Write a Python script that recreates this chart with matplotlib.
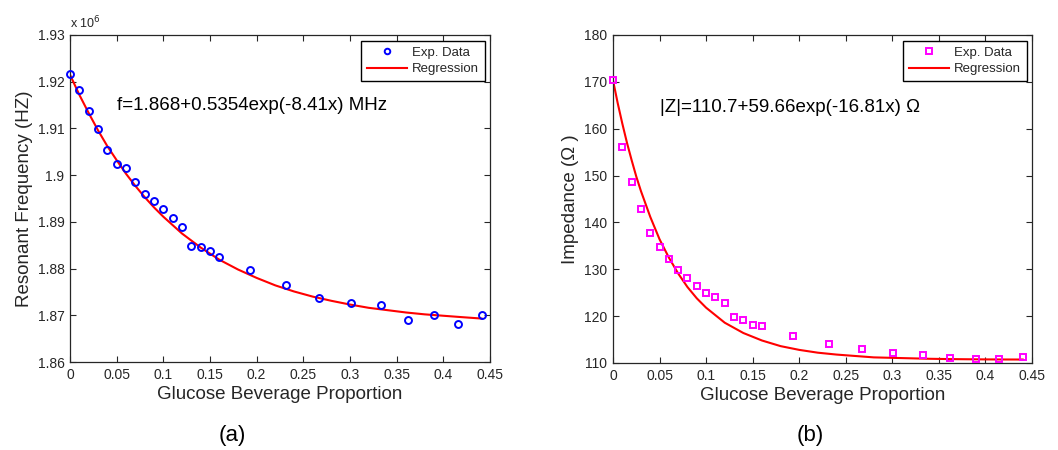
import matplotlib
matplotlib.use("Agg")
import matplotlib.pyplot as plt
from matplotlib.ticker import FixedLocator, FuncFormatter

plt.rcParams['font.family'] = ['Liberation Sans', 'DejaVu Sans']

# ---------------- data (a) ----------------
x_a = [0.0, 0.01, 0.02, 0.03, 0.04, 0.05, 0.06, 0.07, 0.08, 0.09, 0.10, 0.11, 0.12,
       0.13, 0.14, 0.15, 0.16, 0.193, 0.231, 0.267, 0.301, 0.333, 0.362, 0.390, 0.416, 0.441]
freq_a = [1.9216, 1.9182, 1.9138, 1.9098, 1.9053, 1.9024, 1.9015, 1.8986, 1.8960, 1.8944,
          1.8928, 1.8908, 1.8890, 1.8848, 1.8846, 1.8838, 1.8824, 1.8797, 1.8765, 1.8736,
          1.8727, 1.8721, 1.8690, 1.8700, 1.8682, 1.8700]
reg_x_a = [0.0, 0.01, 0.02, 0.03, 0.04, 0.05, 0.06, 0.07, 0.08, 0.09, 0.10, 0.12, 0.14,
           0.16, 0.18, 0.20, 0.22, 0.24, 0.26, 0.28, 0.30, 0.32, 0.34, 0.36, 0.38, 0.40,
           0.42, 0.441]
reg_y_a = [1.9215, 1.9172, 1.9133, 1.9096, 1.9062, 1.9032, 1.9003, 1.8977, 1.8953, 1.8931,
           1.8911, 1.8875, 1.8845, 1.8819, 1.8798, 1.8780, 1.8764, 1.8751, 1.8740, 1.8731,
           1.8723, 1.8716, 1.8711, 1.8706, 1.8702, 1.8699, 1.8696, 1.8693]

# ---------------- data (b) ----------------
x_b = [0.0, 0.01, 0.02, 0.03, 0.04, 0.05, 0.06, 0.07, 0.08, 0.09, 0.10, 0.11, 0.12,
       0.13, 0.14, 0.15, 0.16, 0.193, 0.232, 0.267, 0.301, 0.333, 0.362, 0.390, 0.415, 0.440]
imp_b = [170.5, 156.2, 148.6, 142.9, 137.7, 134.8, 132.3, 129.9, 128.1, 126.4, 124.9,
         124.0, 122.9, 119.8, 119.2, 118.1, 117.8, 115.8, 114.1, 113.0, 112.2, 111.8,
         111.0, 110.8, 110.9, 111.3]
reg_x_b = [0.0, 0.005, 0.01, 0.015, 0.02, 0.025, 0.03, 0.04, 0.05, 0.06, 0.07, 0.08,
           0.09, 0.10, 0.12, 0.14, 0.16, 0.18, 0.20, 0.22, 0.24, 0.26, 0.28, 0.30, 0.32,
           0.34, 0.36, 0.38, 0.40, 0.42, 0.440]
reg_y_b = [170.36, 165.5, 161.1, 157.0, 153.3, 149.8, 146.7, 141.2, 136.4, 132.5, 129.1,
           126.2, 123.8, 121.8, 118.6, 116.4, 114.8, 113.6, 112.8, 112.2, 111.8, 111.5,
           111.2, 111.1, 111.0, 110.9, 110.84, 110.8, 110.77, 110.75, 110.74]

x_ticks = [0, 0.05, 0.1, 0.15, 0.2, 0.25, 0.3, 0.35, 0.4, 0.45]
y_ticks_a = [1.86, 1.87, 1.88, 1.89, 1.9, 1.91, 1.92, 1.93]
y_ticks_b = [110, 120, 130, 140, 150, 160, 170, 180]

eq_a = "f=1.868+0.5354exp(-8.41x) MHz"
eq_b = "|Z|=110.7+59.66exp(-16.81x) Ω"

GREY = '#262626'

fig = plt.figure(figsize=(10.58, 4.5), dpi=100)
ax1 = fig.add_axes([70/1058, 1-362/450, 420/1058, 327/450])
ax2 = fig.add_axes([613/1058, 1-363/450, 419/1058, 328/450])


def fmt(v, pos):
    s = ('%.2f' % v).rstrip('0').rstrip('.')
    return s


def style(ax):
    ax.tick_params(direction='in', top=True, right=True, length=4, width=0.8,
                   colors=GREY, labelsize=10, pad=4)
    for sp in ax.spines.values():
        sp.set_color(GREY)
        sp.set_linewidth(0.9)
    ax.xaxis.set_major_locator(FixedLocator(x_ticks))
    ax.xaxis.set_major_formatter(FuncFormatter(fmt))
    ax.set_xlim(0, 0.45)
    ax.set_xlabel('Glucose Beverage Proportion', fontsize=13.5, color=GREY, labelpad=3)


def legend(ax):
    leg = ax.legend(loc='upper right', bbox_to_anchor=(0.9875, 0.982), fontsize=9.5,
                    frameon=True, fancybox=False, edgecolor='black', framealpha=1,
                    handlelength=3.0, borderpad=0.45, labelspacing=0.3, handletextpad=0.4,
                    borderaxespad=0, markerscale=0.8)
    leg.get_frame().set_linewidth(1.0)
    for t in leg.get_texts():
        t.set_color(GREY)
    return leg


# ---- (a) ----
style(ax1)
ax1.plot(x_a, freq_a, linestyle='none', marker='o', markersize=5, markerfacecolor='none',
         markeredgecolor='#0000ff', markeredgewidth=1.4, label='Exp. Data', zorder=3,
         clip_on=False)
ax1.plot(reg_x_a, reg_y_a, color='#ff0000', linewidth=1.5, label='Regression', zorder=2)
ax1.set_ylim(1.86, 1.93)
ax1.yaxis.set_major_locator(FixedLocator(y_ticks_a))
ax1.yaxis.set_major_formatter(FuncFormatter(fmt))
ax1.set_ylabel('Resonant Frequency (HZ)', fontsize=13.5, color=GREY, labelpad=3.5)
ax1.text(0.0, 1.012, r'x 10$^{6}$', transform=ax1.transAxes, fontsize=9, color=GREY,
         ha='left', va='bottom')
ax1.text(0.112, 0.783, eq_a, transform=ax1.transAxes, fontsize=13.5, color='black',
         ha='left', va='center')
legend(ax1)

# ---- (b) ----
style(ax2)
ax2.plot(x_b, imp_b, linestyle='none', marker='s', markersize=5, markerfacecolor='none',
         markeredgecolor='#ff00ff', markeredgewidth=1.4, label='Exp. Data', zorder=3,
         clip_on=False)
ax2.plot(reg_x_b, reg_y_b, color='#ff0000', linewidth=1.5, label='Regression', zorder=2)
ax2.set_ylim(110, 180)
ax2.yaxis.set_major_locator(FixedLocator(y_ticks_b))
ax2.yaxis.set_major_formatter(FuncFormatter(fmt))
ax2.set_ylabel('Impedance (Ω )', fontsize=13.5, color=GREY, labelpad=4)
ax2.text(0.112, 0.78, eq_b, transform=ax2.transAxes, fontsize=13.5, color='black',
         ha='left', va='center')
legend(ax2)

fig.text(232/1058, 1-435/450, '(a)', fontsize=16, ha='center', va='center', color='black')
fig.text(810/1058, 1-435/450, '(b)', fontsize=16, ha='center', va='center', color='black')

fig.savefig('out.png', dpi=100)
